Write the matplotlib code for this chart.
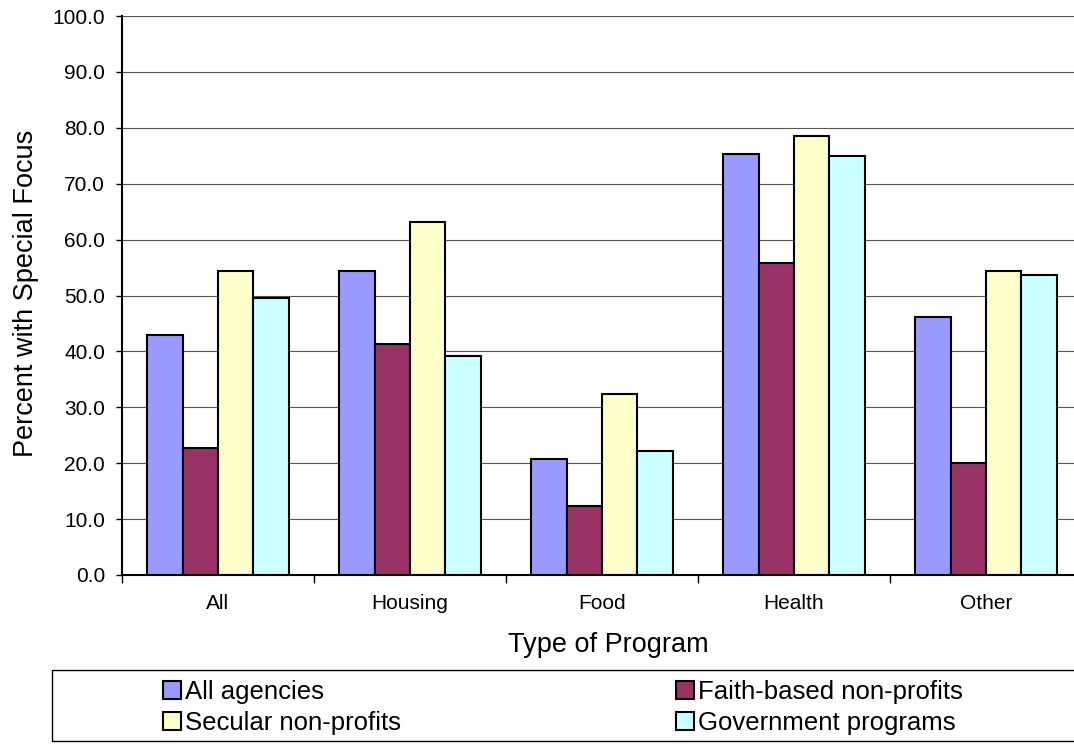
import numpy as np
import matplotlib
matplotlib.use("Agg")
import matplotlib.pyplot as plt
from matplotlib.patches import Rectangle
from matplotlib.ticker import FormatStrFormatter

plt.rcParams['font.family'] = ['Liberation Sans', 'DejaVu Sans']

programas = ["All", "Housing", "Food", "Health", "Other"]
series = ["All agencies", "Faith-based non-profits", "Secular non-profits", "Government programs"]
all_agencies = [42.9, 54.3, 20.7, 75.4, 46.1]
faith_based = [22.8, 41.4, 12.4, 55.8, 20.0]
secular = [54.3, 63.2, 32.4, 78.5, 54.4]
government = [49.6, 39.2, 22.2, 75.0, 53.7]
colores = ['#9999FF', '#993366', '#FFFFCC', '#CCFFFF']

valores = [all_agencies, faith_based, secular, government]

W, H = 1074, 744
fig = plt.figure(figsize=(W/100, H/100), dpi=100)
# el area de graficos se sale un poco por la derecha
ax = fig.add_axes([122/W, 1-575/H, 960/W, 559/H])

x = np.arange(len(programas)) + 0.5
ancho = 0.184
barras = []
for k in range(4):
    b = ax.bar(x + (k-1.5)*ancho, valores[k], width=ancho, color=colores[k],
               edgecolor='black', linewidth=1.5, label=series[k], zorder=3)
    barras.append(b)

ax.set_xlim(0, 5)
ax.set_ylim(0, 100)
ax.set_yticks(np.arange(0, 101, 10))
ax.yaxis.set_major_formatter(FormatStrFormatter('%.1f'))
ax.yaxis.grid(True, color='#555555', linewidth=0.8, zorder=0)
ax.tick_params(axis='y', direction='out', length=4.3, width=1, labelsize=15, pad=8)

# marcas entre grupos, etiquetas al centro
ax.set_xticks(np.arange(0, 6))
ax.set_xticklabels([])
ax.set_xticks(x, minor=True)
ax.set_xticklabels(programas, minor=True)
ax.tick_params(axis='x', which='major', direction='out', length=5.8, width=1)
ax.tick_params(axis='x', which='minor', length=0, labelsize=15, pad=14)

for s in ['top', 'right']:
    ax.spines[s].set_visible(False)
ax.spines['left'].set_linewidth(1.5)
ax.spines['bottom'].set_linewidth(1.5)

ax.set_xlabel("Type of Program", fontsize=19.5)
ax.xaxis.set_label_coords(0.507, -0.102)
ax.set_ylabel("Percent with Special Focus", fontsize=19.5)
ax.yaxis.set_label_coords(-0.0865, 0.5036)

# la leyenda se llena por columnas: reordenar para que quede por filas
orden = [0, 2, 1, 3]
leg = fig.legend(handles=[barras[i] for i in orden], labels=[series[i] for i in orden],
                 ncol=2, loc='upper left',
                 bbox_to_anchor=(163/W, 1-680/H), frameon=False, fontsize=18.5,
                 borderpad=0, borderaxespad=0, handlelength=0.7, handleheight=0.7,
                 handletextpad=0.15, columnspacing=10.7, labelspacing=0.26)

# recuadro de la leyenda
fig.add_artist(Rectangle((52/W, 1-741/H), 1100/W, 71/H, transform=fig.transFigure,
                         fill=False, edgecolor='black', linewidth=1))

plt.savefig("out.png", dpi=100)
